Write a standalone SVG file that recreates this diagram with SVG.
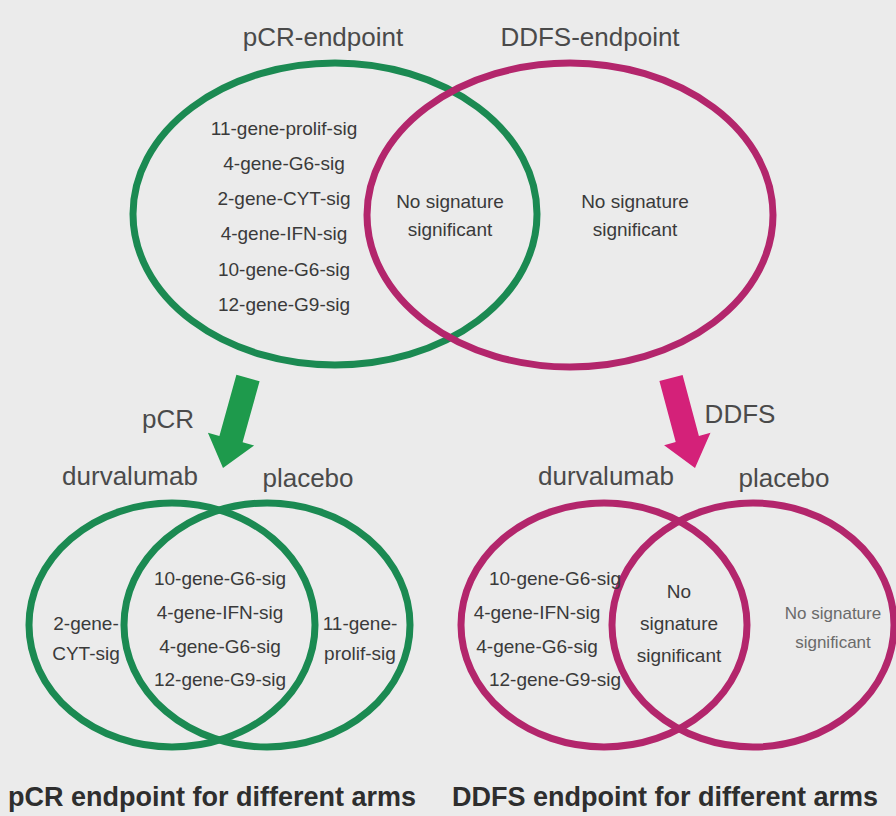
<svg xmlns="http://www.w3.org/2000/svg" width="896" height="816" viewBox="0 0 896 816">
<style>
  text { font-family: "Liberation Sans", Arial, sans-serif; text-anchor: middle; }
  .lbl { font-size: 26px; fill: #4a4a4a; }
  .gene { font-size: 19px; fill: #3a3a3a; }
  .faint { font-size: 17px; fill: #6a6a6a; }
  .cap { font-size: 27px; font-weight: bold; fill: #2e2e2e; text-anchor: start; }
  .g-ring { fill: none; stroke: #1b8a52; stroke-width: 7; }
  .p-ring { fill: none; stroke: #b3266c; stroke-width: 7; }
  .g-arrow { fill: #1e9a4c; }
  .p-arrow { fill: #d42179; }
</style>
<rect x="0" y="0" width="896" height="816" fill="#ebebeb"/>

<g id="pcr-endpoint">
  <ellipse class="g-ring" cx="335" cy="214" rx="202" ry="151"/>
  <text class="lbl" x="323" y="46">pCR-endpoint</text>
  <text class="gene" x="284" y="135">11-gene-prolif-sig</text>
  <text class="gene" x="284" y="170">4-gene-G6-sig</text>
  <text class="gene" x="284" y="205">2-gene-CYT-sig</text>
  <text class="gene" x="284" y="240">4-gene-IFN-sig</text>
  <text class="gene" x="284" y="276">10-gene-G6-sig</text>
  <text class="gene" x="284" y="311">12-gene-G9-sig</text>
</g>

<g id="ddfs-endpoint">
  <ellipse class="p-ring" cx="570" cy="215" rx="203" ry="152"/>
  <text class="lbl" x="590" y="46">DDFS-endpoint</text>
  <text class="gene" x="635" y="208">No signature</text>
  <text class="gene" x="635" y="236">significant</text>
</g>

<g id="top-overlap">
  <text class="gene" x="450" y="208">No signature</text>
  <text class="gene" x="450" y="236">significant</text>
</g>

<g id="connectors">
  <polygon class="g-arrow" points="236.4,374.8 259.6,381.2 242.6,442.3 254.1,445.5 223,468 207.9,432.7 219.4,435.9"/>
  <text class="lbl" x="168" y="428">pCR</text>
  <polygon class="p-arrow" points="659.4,381.1 682.6,374.9 698.9,435.9 710.5,432.8 695,468 664.1,445.2 675.7,442.1"/>
  <text class="lbl" x="740" y="423">DDFS</text>
</g>

<g id="pcr-arms">
  <ellipse class="g-ring" cx="172" cy="625" rx="143" ry="122"/>
  <ellipse class="g-ring" cx="267" cy="625" rx="143" ry="122"/>
  <text class="lbl" x="130" y="485">durvalumab</text>
  <text class="lbl" x="308" y="487">placebo</text>
  <text class="gene" x="86" y="630">2-gene-</text>
  <text class="gene" x="86" y="660">CYT-sig</text>
  <text class="gene" x="220" y="585">10-gene-G6-sig</text>
  <text class="gene" x="220" y="619">4-gene-IFN-sig</text>
  <text class="gene" x="220" y="653">4-gene-G6-sig</text>
  <text class="gene" x="220" y="686">12-gene-G9-sig</text>
  <text class="gene" x="360" y="630">11-gene-</text>
  <text class="gene" x="360" y="660">prolif-sig</text>
</g>

<g id="ddfs-arms">
  <ellipse class="p-ring" cx="604" cy="625" rx="143" ry="122"/>
  <ellipse class="p-ring" cx="753" cy="625" rx="141" ry="122"/>
  <text class="lbl" x="606" y="485">durvalumab</text>
  <text class="lbl" x="784" y="487">placebo</text>
  <text class="gene" x="555" y="585">10-gene-G6-sig</text>
  <text class="gene" x="537" y="619">4-gene-IFN-sig</text>
  <text class="gene" x="537" y="653">4-gene-G6-sig</text>
  <text class="gene" x="555" y="686">12-gene-G9-sig</text>
  <text class="gene" x="679" y="598">No</text>
  <text class="gene" x="679" y="630">signature</text>
  <text class="gene" x="679" y="662">significant</text>
  <text class="faint" x="833" y="619">No signature</text>
  <text class="faint" x="833" y="648">significant</text>
</g>

<g id="captions">
  <text class="cap" x="8" y="806">pCR endpoint for different arms</text>
  <text class="cap" x="452" y="806">DDFS endpoint for different arms</text>
</g>
</svg>
